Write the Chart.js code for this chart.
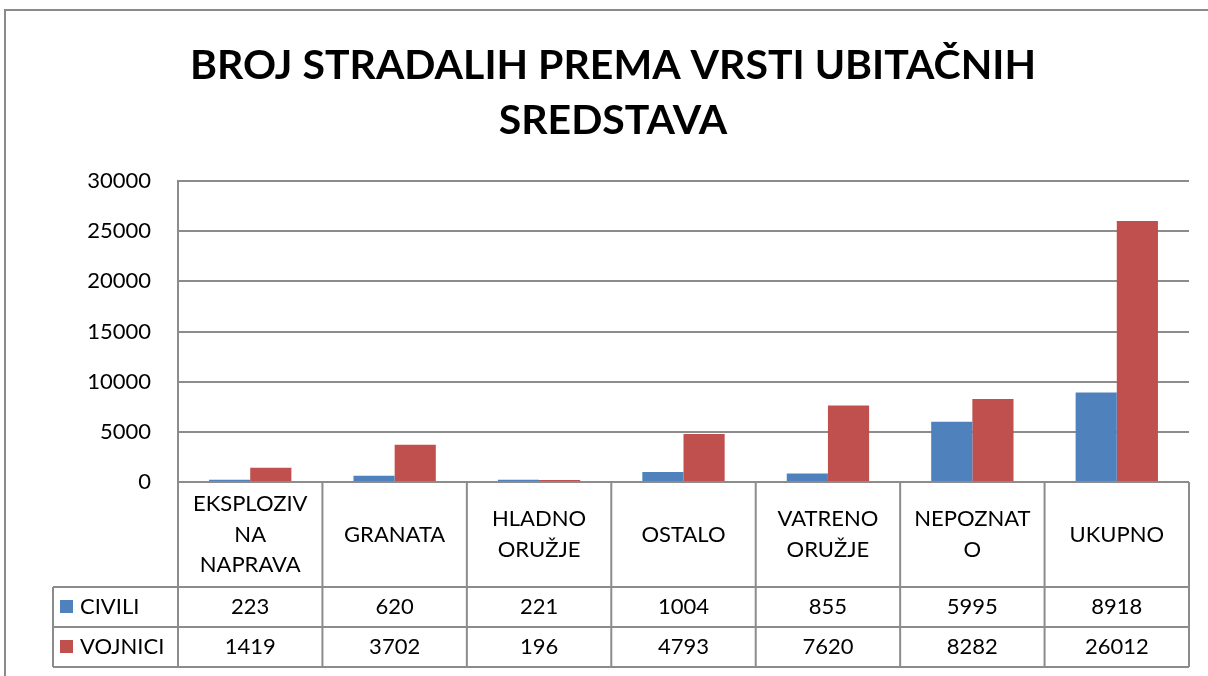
<!DOCTYPE html>
<html>
<head>
<meta charset="utf-8">
<script src="https://cdn.jsdelivr.net/npm/chart.js@4/dist/chart.umd.min.js"></script>
<style>
  body { margin: 0; background: #fff; }
  #wrap { width: 1208px; height: 676px; }
</style>
</head>
<body>
<div id="wrap"><canvas id="chart" width="1208" height="676"></canvas></div>
<script>
const title = ['BROJ STRADALIH PREMA VRSTI UBITAČNIH', 'SREDSTAVA'];
const categories = [['EKSPLOZIV', 'NA', 'NAPRAVA'], ['GRANATA'], ['HLADNO', 'ORUŽJE'], ['OSTALO'], ['VATRENO', 'ORUŽJE'], ['NEPOZNAT', 'O'], ['UKUPNO']];
const civili = [223, 620, 221, 1004, 855, 5995, 8918];
const vojnici = [1419, 3702, 196, 4793, 7620, 8282, 26012];
const seriesNames = ['CIVILI', 'VOJNICI'];
const yTicks = [0, 5000, 10000, 15000, 20000, 25000, 30000];

const FONT = 'Lato, "Open Sans", sans-serif';
const LINE = '#8c8c8c';

// okvir, naslov i tabela s podacima ispod grafa (kao u Excelu)
const dataTable = {
  id: 'dataTable',
  beforeDraw(chart) {
    const ctx = chart.ctx;
    ctx.save();
    ctx.strokeStyle = '#8a8a8a';
    ctx.lineWidth = 2;
    ctx.beginPath();
    ctx.moveTo(5, 676);
    ctx.lineTo(5, 10);
    ctx.lineTo(1208, 10);
    ctx.stroke();

    ctx.fillStyle = '#000';
    ctx.font = 'bold 41px ' + FONT;
    ctx.textAlign = 'center';
    ctx.textBaseline = 'middle';
    ctx.fillText(title[0], 613, 66);
    ctx.fillText(title[1], 613, 121);
    ctx.restore();
  },
  afterDraw(chart) {
    const { ctx, chartArea: a } = chart;
    const x = chart.scales.x;
    const n = categories.length;
    const colW = (a.right - a.left) / n;
    const top = a.bottom;
    const r1 = top + 105, r2 = r1 + 40, r3 = r2 + 40;
    const left = 53;

    ctx.save();
    ctx.strokeStyle = LINE;
    ctx.lineWidth = 2;
    ctx.beginPath();
    ctx.moveTo(a.left, top); ctx.lineTo(a.right, top);
    [r1, r2, r3].forEach(y => { ctx.moveTo(left, y); ctx.lineTo(a.right, y); });
    for (let i = 0; i <= n; i++) {
      const xx = a.left + i * colW;
      ctx.moveTo(xx, top); ctx.lineTo(xx, r3);
    }
    ctx.moveTo(left, r1); ctx.lineTo(left, r3);
    ctx.stroke();

    ctx.fillStyle = '#000';
    ctx.font = '22px ' + FONT;
    ctx.textAlign = 'center';
    ctx.textBaseline = 'middle';
    categories.forEach((lines, i) => {
      const cx = x.getPixelForValue(i);
      const cy = (top + r1) / 2;
      lines.forEach((t, j) => {
        ctx.fillText(t, cx, cy + (j - (lines.length - 1) / 2) * 30.5);
      });
      ctx.fillText(String(civili[i]), cx, (r1 + r2) / 2);
      ctx.fillText(String(vojnici[i]), cx, (r2 + r3) / 2);
    });

    chart.data.datasets.forEach((ds, k) => {
      const cy = k === 0 ? (r1 + r2) / 2 : (r2 + r3) / 2;
      ctx.fillStyle = ds.backgroundColor;
      ctx.fillRect(60, cy - 7, 13, 13);
      ctx.fillStyle = '#000';
      ctx.textAlign = 'left';
      ctx.fillText(seriesNames[k], 80, cy);
    });
    ctx.restore();
  }
};

new Chart(document.getElementById('chart'), {
  type: 'bar',
  data: {
    labels: categories,
    datasets: [
      { label: seriesNames[0], data: civili, backgroundColor: '#4f81bd' },
      { label: seriesNames[1], data: vojnici, backgroundColor: '#c0504d' }
    ]
  },
  options: {
    responsive: false,
    animation: false,
    layout: { padding: { left: 0, right: 19, top: 181, bottom: 194 } },
    datasets: { bar: { categoryPercentage: 0.57, barPercentage: 1 } },
    plugins: {
      legend: { display: false },
      tooltip: { enabled: false },
      title: { display: false }
    },
    scales: {
      x: { display: false },
      y: {
        min: 0,
        max: 30000,
        afterFit(scale) { scale.width = 178; },
        afterBuildTicks(scale) { scale.ticks = yTicks.map(v => ({ value: v })); },
        ticks: {
          color: '#000',
          padding: 27,
          font: { family: FONT, size: 22 },
          callback: v => String(v)
        },
        grid: { color: LINE, lineWidth: 2, drawTicks: false },
        border: { color: LINE, width: 2 }
      }
    }
  },
  plugins: [dataTable]
});
</script>
</body>
</html>
